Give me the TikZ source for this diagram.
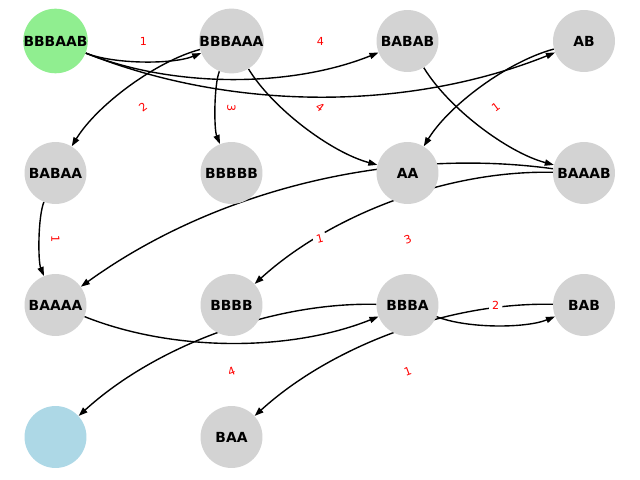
\documentclass[tikz,border=0pt]{standalone}
\usepackage{fontspec}
\setmainfont{DejaVu Sans}
\usetikzlibrary{arrows.meta,calc}

\pgfdeclarelayer{edgelayer}
\pgfdeclarelayer{labellayer}
\pgfsetlayers{edgelayer,labellayer,main}

\definecolor{nodegray}{HTML}{D3D3D3}
\definecolor{startgreen}{HTML}{90EE90}
\definecolor{endblue}{HTML}{ADD8E6}

% curved edge: quadratic arc bent to the right of travel, written as a cubic
\newcommand\arcedge[2]{\draw[edge] (#1) .. controls ($(#1)!0.359!-21.8:(#2)$) and ($(#2)!0.359!21.8:(#1)$) .. (#2);}
% weight label at the midpoint of the straight line between two states
\newcommand\weight[4]{\path (#1) -- node[elabel,rotate=#3] {#4} (#2);}

\begin{document}
\begin{tikzpicture}[x=0.72pt,y=0.72pt,
  state/.style={circle,fill=nodegray,minimum size=44.6pt,inner sep=0pt,
    font=\bfseries\fontsize{10}{12}\selectfont},
  edge/.style={line width=1pt,-{Triangle[length=6.5pt,width=4.5pt]}},
  elabel/.style={fill=white,text=red,inner sep=2.2pt,rounded corners=2pt,
    font=\fontsize{8}{9.6}\selectfont}]

\useasboundingbox (0,0) rectangle (640,480);

% states
\node[state,fill=startgreen] (BBBAAB) at (55.5,439) {BBBAAB};
\node[state] (BBBAAA) at (231.5,439) {BBBAAA};
\node[state] (BABAB)  at (407.5,439) {BABAB};
\node[state] (AB)     at (584,439)   {AB};
\node[state] (BABAA)  at (55.5,307)  {BABAA};
\node[state] (BBBBB)  at (231.5,307) {BBBBB};
\node[state] (AA)     at (407.5,307) {AA};
\node[state] (BAAAB)  at (584,307)   {BAAAB};
\node[state] (BAAAA)  at (55.5,175)  {BAAAA};
\node[state] (BBBB)   at (231.5,175) {BBBB};
\node[state] (BBBA)   at (407.5,175) {BBBA};
\node[state] (BAB)    at (584,175)   {BAB};
\node[state,fill=endblue] (empty) at (55.5,43) {};
\node[state] (BAA)    at (231.5,43)  {BAA};

% transitions
\begin{pgfonlayer}{edgelayer}
  \arcedge{BBBAAB}{BBBAAA}
  \arcedge{BBBAAB}{BABAB}
  \arcedge{BBBAAB}{AB}
  \arcedge{BBBAAA}{BABAA}
  \arcedge{BBBAAA}{BBBBB}
  \arcedge{BBBAAA}{AA}
  \arcedge{BABAB}{BAAAB}
  \arcedge{AB}{AA}
  \arcedge{BABAA}{BAAAA}
  \arcedge{BAAAB}{BAAAA}
  \arcedge{BAAAB}{BBBB}
  \arcedge{BAAAA}{BBBA}
  \arcedge{BBBA}{empty}
  \arcedge{BBBA}{BAB}
  \arcedge{BAB}{BAA}
\end{pgfonlayer}

% weights
\begin{pgfonlayer}{labellayer}
  \weight{BBBAAB}{BBBAAA}{0}{1}
  \weight{BBBAAB}{AB}{0}{4}
  \weight{BBBAAA}{BABAA}{36.8}{2}
  \weight{BBBAAA}{BBBBB}{-90}{3}
  \weight{BBBAAA}{AA}{-36.8}{4}
  \weight{AB}{AA}{36.8}{1}
  \weight{BABAA}{BAAAA}{-90}{1}
  \weight{BAAAB}{BAAAA}{14}{1}
  \weight{BAAAB}{BBBB}{20.5}{3}
  \weight{BBBA}{BAB}{0}{2}
  \weight{BBBA}{empty}{20.5}{4}
  \weight{BAB}{BAA}{20.5}{1}
\end{pgfonlayer}

\end{tikzpicture}
\end{document}
